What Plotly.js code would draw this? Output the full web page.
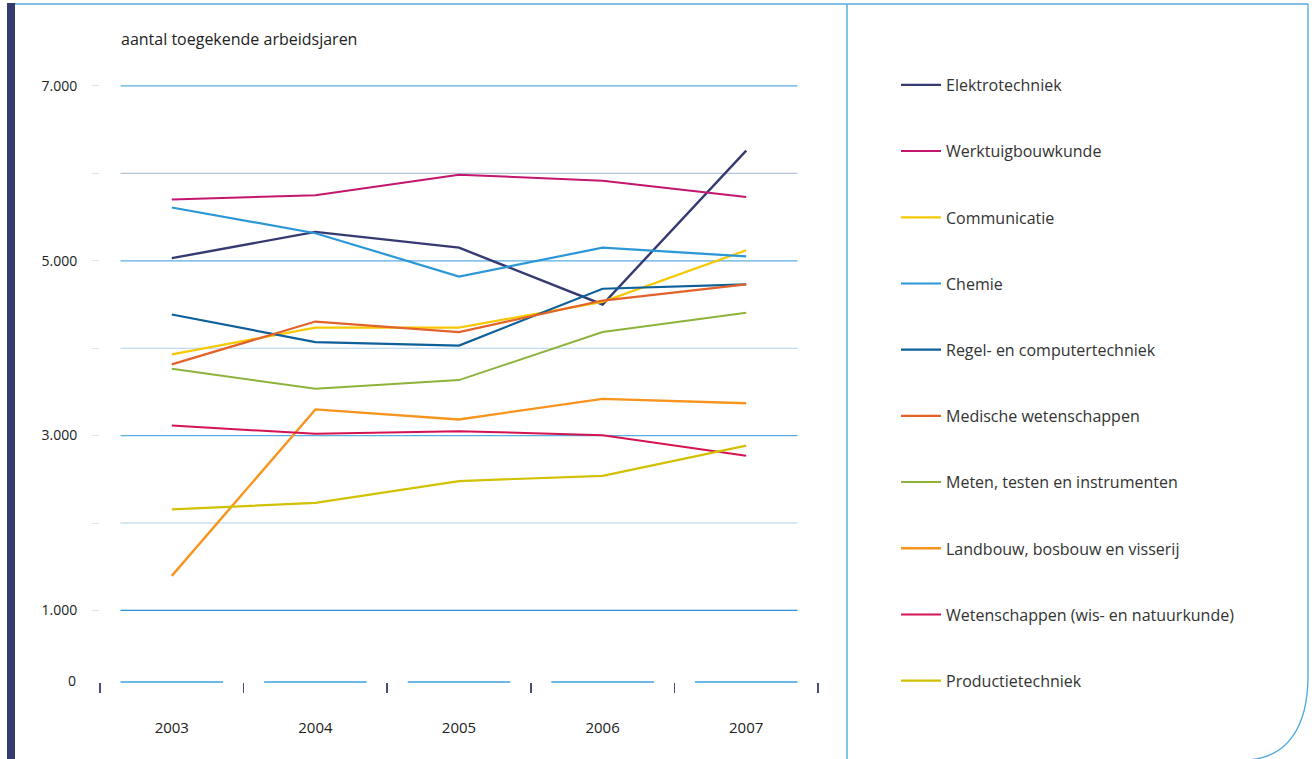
<!DOCTYPE html>
<html>
<head>
<meta charset="utf-8">
<script src="https://cdn.plot.ly/plotly-3.0.1.min.js"></script>
<style>html,body{margin:0;padding:0;background:#fff;}#chart{width:1315px;height:759px;}</style>
</head>
<body>
<div id="chart"></div>
<script>
// ---- data ----
const years = [2003, 2004, 2005, 2006, 2007];
const seriesNames = [
  "Elektrotechniek",
  "Werktuigbouwkunde",
  "Communicatie",
  "Chemie",
  "Regel- en computertechniek",
  "Medische wetenschappen",
  "Meten, testen en instrumenten",
  "Landbouw, bosbouw en visserij",
  "Wetenschappen (wis- en natuurkunde)",
  "Productietechniek"
];
const elektrotechniek   = [5030, 5330, 5150, 4500, 6260];
const werktuigbouwkunde = [5700, 5750, 5985, 5915, 5730];
const communicatie      = [3930, 4235, 4235, 4530, 5120];
const chemie            = [5610, 5315, 4820, 5150, 5050];
const regelComputer     = [4385, 4070, 4030, 4680, 4730];
const medisch           = [3815, 4305, 4185, 4545, 4730];
const meten             = [3765, 3535, 3635, 4185, 4405];
const landbouw          = [1395, 3300, 3185, 3420, 3370];
const wetenschappen     = [3115, 3020, 3050, 3005, 2770];
const productie         = [2155, 2230, 2480, 2540, 2885];
const yTickVals   = [1000, 3000, 5000, 7000];
const yTickText   = ["1.000", "3.000", "5.000", "7.000"];
const yMinorVals  = [2000, 4000, 6000];
const majorGrid   = [1000, 3000, 5000, 7000];
const minorGrid   = [2000, 4000, 6000];
const xTickText   = ["2003", "2004", "2005", "2006", "2007"];

// ---- styles ----
const allSeries = [elektrotechniek, werktuigbouwkunde, communicatie, chemie, regelComputer,
                   medisch, meten, landbouw, wetenschappen, productie];
const colors = ["#363a73", "#c2166f", "#f6c800", "#2b97d6", "#0d6099",
                "#e2622a", "#8db33a", "#f7941e", "#d41450", "#d2c100"];
const widths = [2.4, 2, 2.2, 2.2, 2.2, 2.2, 2, 2.4, 2, 2.2];

// plot area in pixels
const L = 100, R = 818, T = 60, B = 682;
const W = 1315, H = 759;
const px = x => (x - L) / (R - L);
const py = y => (B - y) / (B - T);

const traces = allSeries.map((vals, i) => ({
  type: "scatter", mode: "lines",
  x: years, y: vals, name: seriesNames[i],
  legendgroup: "g" + i,
  line: {color: colors[i], width: widths[i]},
  hoverinfo: "x+y+name"
}));

const shapes = [];
// gridlines
majorGrid.forEach(v => shapes.push({type: "line", xref: "x", yref: "y", layer: "below",
  x0: years[0] - 0.357, x1: years[years.length - 1] + 0.357, y0: v, y1: v,
  line: {color: v === 1000 ? "#2b8fd4" : "#5aaee2", width: 1.3}}));
minorGrid.forEach(v => shapes.push({type: "line", xref: "x", yref: "y", layer: "below",
  x0: years[0] - 0.357, x1: years[years.length - 1] + 0.357, y0: v, y1: v,
  line: {color: v === 6000 ? "#b4c4d4" : "#b0d0ee", width: 1.1}}));
// baseline segments
years.forEach(yr => shapes.push({type: "line", xref: "x", yref: "paper", layer: "below",
  x0: yr - 0.357, x1: yr + 0.357, y0: 0, y1: 0,
  line: {color: "#6cb8e8", width: 2}}));
// frame: left navy bar
shapes.push({type: "rect", xref: "paper", yref: "paper",
  x0: px(7), x1: px(15), y0: py(3), y1: py(H + 5),
  fillcolor: "#353a70", line: {width: 0}});
// top line
shapes.push({type: "line", xref: "paper", yref: "paper",
  x0: px(15), x1: px(1308), y0: py(4), y1: py(4),
  line: {color: "#7cc0e8", width: 2}});
// divider
shapes.push({type: "line", xref: "paper", yref: "paper",
  x0: px(847), x1: px(847), y0: py(4), y1: py(H + 5),
  line: {color: "#5aaee2", width: 1.5}});
// right edge with curve
const pth = "M" + px(1308) + "," + py(4) + " L" + px(1308) + "," + py(676) +
  " C" + px(1308) + "," + py(726) + " " + px(1288) + "," + py(759) + " " + px(1245) + "," + py(760);
shapes.push({type: "path", xref: "paper", yref: "paper", path: pth,
  line: {color: "#4aa8e0", width: 1.3}});

const annotations = [
  {xref: "paper", yref: "paper", x: px(78), y: py(680), xanchor: "right", yanchor: "middle",
   text: "0", showarrow: false, font: {family: "Open Sans, sans-serif", size: 14, color: "#222"}}
];

const layout = {
  width: W, height: H,
  margin: {l: L, r: W - R, t: T, b: H - B, pad: 0},
  paper_bgcolor: "#ffffff", plot_bgcolor: "rgba(0,0,0,0)",
  font: {family: "Open Sans, sans-serif", color: "#222"},
  title: {text: "aantal toegekende arbeidsjaren", xref: "container", yref: "container",
    x: 121 / W, xanchor: "left", y: 1 - 39 / H, yanchor: "middle",
    font: {family: "Open Sans, sans-serif", size: 16, color: "#222"}},
  xaxis: {range: [2002.5, 2007.5], tickvals: years, ticktext: xTickText, ticks: "",
    showgrid: false, zeroline: false, showline: false, fixedrange: true,
    ticklabelstandoff: 35,
    tickfont: {family: "Open Sans, sans-serif", size: 15, color: "#222"},
    minor: {tickmode: "array", tickvals: [2002.5, 2003.5, 2004.5, 2005.5, 2006.5, 2007.5],
      ticks: "outside", ticklen: 10, tickwidth: 1.5, tickcolor: "#4a4f82", showgrid: false}},
  yaxis: {range: [181, 7297], tickvals: yTickVals, ticktext: yTickText,
    ticks: "outside", ticklen: 7, tickwidth: 1, tickcolor: "#e2e2e2",
    showgrid: false, zeroline: false, showline: false, fixedrange: true,
    ticklabelstandoff: 12,
    tickfont: {family: "Open Sans, sans-serif", size: 14, color: "#222"},
    minor: {tickmode: "array", tickvals: yMinorVals, ticks: "outside", ticklen: 7,
      tickwidth: 1, tickcolor: "#e2e2e2", showgrid: false}},
  showlegend: true,
  legend: {x: px(896), y: py(68), xanchor: "left", yanchor: "top",
    tracegroupgap: 42.4, itemwidth: 40, bgcolor: "rgba(0,0,0,0)",
    font: {family: "Open Sans, sans-serif", size: 16, color: "#333"}},
  shapes: shapes,
  annotations: annotations
};

Plotly.newPlot("chart", traces, layout, {displayModeBar: false, staticPlot: true});
</script>
</body>
</html>
